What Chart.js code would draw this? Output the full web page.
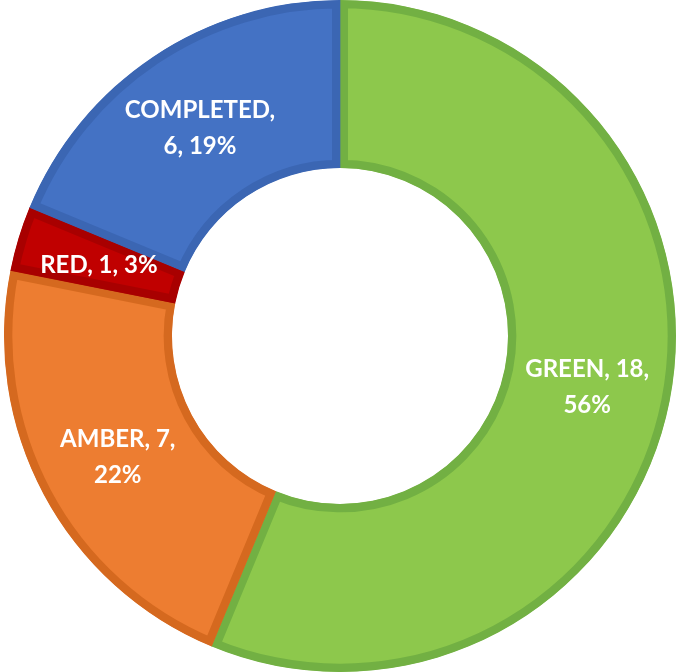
<!DOCTYPE html>
<html>
<head>
<meta charset="utf-8">
<script src="https://cdn.jsdelivr.net/npm/chart.js@4/dist/chart.umd.min.js"></script>
<style>
  html, body { margin: 0; padding: 0; background: #fff; }
  #wrap { width: 680px; height: 672px; }
</style>
</head>
<body>
<div id="wrap"><canvas id="chart"></canvas></div>
<script>
const categories = ["GREEN", "AMBER", "RED", "COMPLETED"];
const counts = [18, 7, 1, 6];
const fills = ["#8DC84C", "#ED7D31", "#C00000", "#4472C4"];
const edges = ["#72B043", "#D5691F", "#A80000", "#3B66B3"];

const total = counts.reduce((a, b) => a + b, 0);

// draws "NAME, n, p%" inside each slice, wrapped like Excel does
const sliceLabels = {
  id: "sliceLabels",
  afterDatasetsDraw(chart) {
    const ctx = chart.ctx;
    const arcs = chart.getDatasetMeta(0).data;
    ctx.save();
    ctx.font = "bold 24px Lato";
    ctx.fillStyle = "#fff";
    ctx.textAlign = "center";
    ctx.textBaseline = "middle";
    arcs.forEach((arc, i) => {
      const pct = Math.round(counts[i] / total * 100);
      const parts = [categories[i] + ",", counts[i] + ",", pct + "%"];
      const lines = [];
      let cur = "";
      parts.forEach(p => {
        const next = cur ? cur + " " + p : p;
        if (cur && ctx.measureText(next).width > 150) {
          lines.push(cur);
          cur = p;
        } else {
          cur = next;
        }
      });
      lines.push(cur);
      const pos = arc.tooltipPosition();
      const lh = 36;
      lines.forEach((t, k) => {
        ctx.fillText(t, pos.x, pos.y + 2 + (k - (lines.length - 1) / 2) * lh);
      });
    });
    ctx.restore();
  }
};

new Chart(document.getElementById("chart"), {
  type: "doughnut",
  data: {
    labels: categories,
    datasets: [{
      data: counts,
      backgroundColor: fills,
      borderColor: edges,
      borderWidth: 8,
      borderAlign: "inner"
    }]
  },
  options: {
    responsive: true,
    maintainAspectRatio: false,
    animation: false,
    cutout: "50%",
    plugins: {
      legend: { display: false },
      tooltip: { enabled: false }
    }
  },
  plugins: [sliceLabels]
});
</script>
</body>
</html>
